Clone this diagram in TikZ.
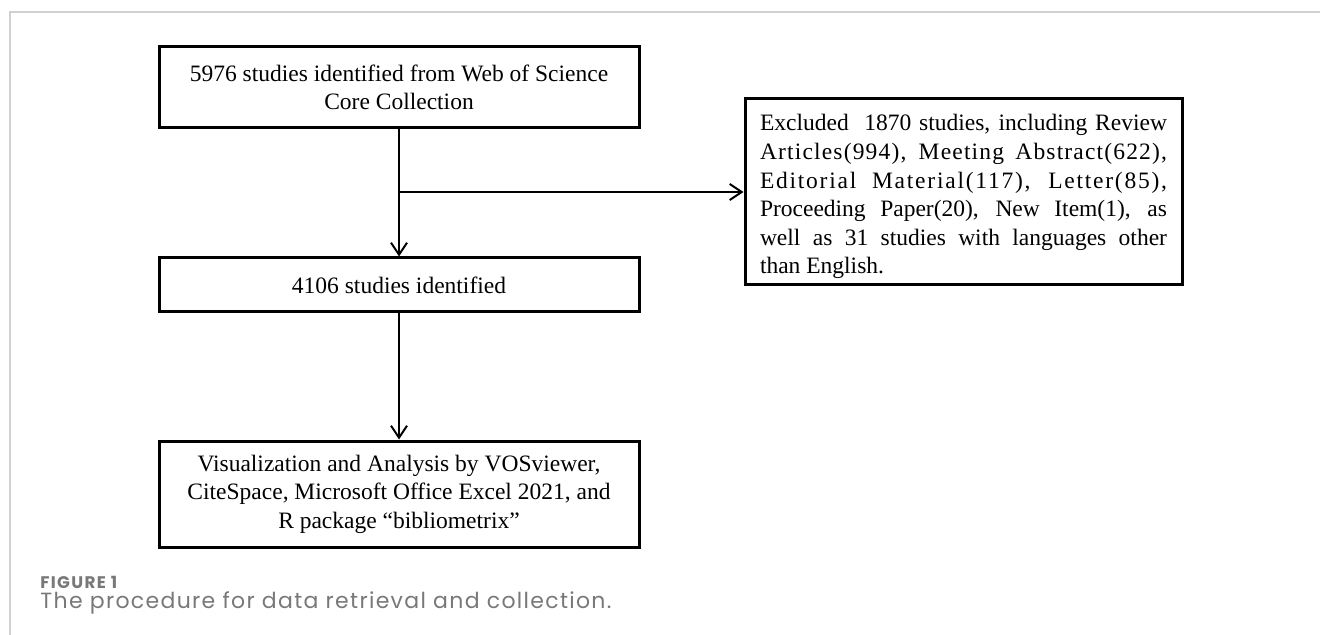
\documentclass[tikz,border=0pt]{standalone}
\usepackage{fontspec}
\usepackage{xcolor}
\usetikzlibrary{arrows.meta}
\setmainfont{Liberation Serif}
\newfontfamily\capfont[LetterSpace=6]{Poppins}
\newfontfamily\capbold[LetterSpace=8]{Poppins}
\newfontfamily\widefont[LetterSpace=5]{Liberation Serif}
\newfontfamily\widerfont[LetterSpace=7.5]{Liberation Serif}
\newcommand{\boxsize}{\fontsize{11.75pt}{14.3pt}\selectfont}
\definecolor{framegray}{RGB}{208,208,208}
\definecolor{capgray}{RGB}{120,120,120}

\begin{document}
\begin{tikzpicture}[x=0.5pt, y=-0.5pt,
        box/.style={draw, line width=1.5pt, minimum width=240pt, align=center, inner sep=0pt, font=\boxsize},
        arr/.style={-{Straight Barb[length=6pt, width=8pt]}, line width=1pt},
        captext/.style={anchor=base west, inner sep=0pt, text=capgray}]
        \useasboundingbox (0,0) rectangle (1320,635);
        % Frame
        \draw[framegray, line width=0.65pt] (10,635) -- (10,12) -- (1320,12);

        % Nodes
        \node[box, minimum height=40.5pt] (found) at (399,87.5) {5976 studies identified from Web of Science\\Core Collection};
        \node[box, minimum height=27pt] (kept) at (399,285) {4106 studies identified};
        \node[box, minimum height=53pt] (vis) at (399,494) {Visualization and Analysis by VOSviewer,\\CiteSpace, Microsoft Office Excel 2021, and\\R package ``bibliometrix''};
        \node[box, minimum width=218.5pt, minimum height=93pt, text width=203.5pt, align=justify, inner xsep=7.5pt] (excl) at (963.5,192)
                {\boxsize\rule{0pt}{13pt}Excluded\ \ 1870 studies, including Review\linebreak
                {\widefont Articles(994), Meeting Abstract(622),}\linebreak
                {\widerfont Editorial Material(117), Letter(85),}\linebreak
                Proceeding Paper(20), New Item(1), as\linebreak
                well as 31 studies with languages other\linebreak
                than English.};
        \coordinate (split) at (399,192);

        % Edges
        \draw[arr] (found) -- (kept);
        \draw[arr] (kept) -- (vis);
        \draw[arr] (split) -- (excl);

        % Labels
        \node[captext, font=\capbold\bfseries\fontsize{8.4pt}{9pt}\selectfont] (figno) at (40,588) {FIGURE 1};
        \node[captext, font=\capfont\fontsize{11pt}{12pt}\selectfont] (caption) at (40,608) {The procedure for data retrieval and collection.};
    \end{tikzpicture}
\end{document}
